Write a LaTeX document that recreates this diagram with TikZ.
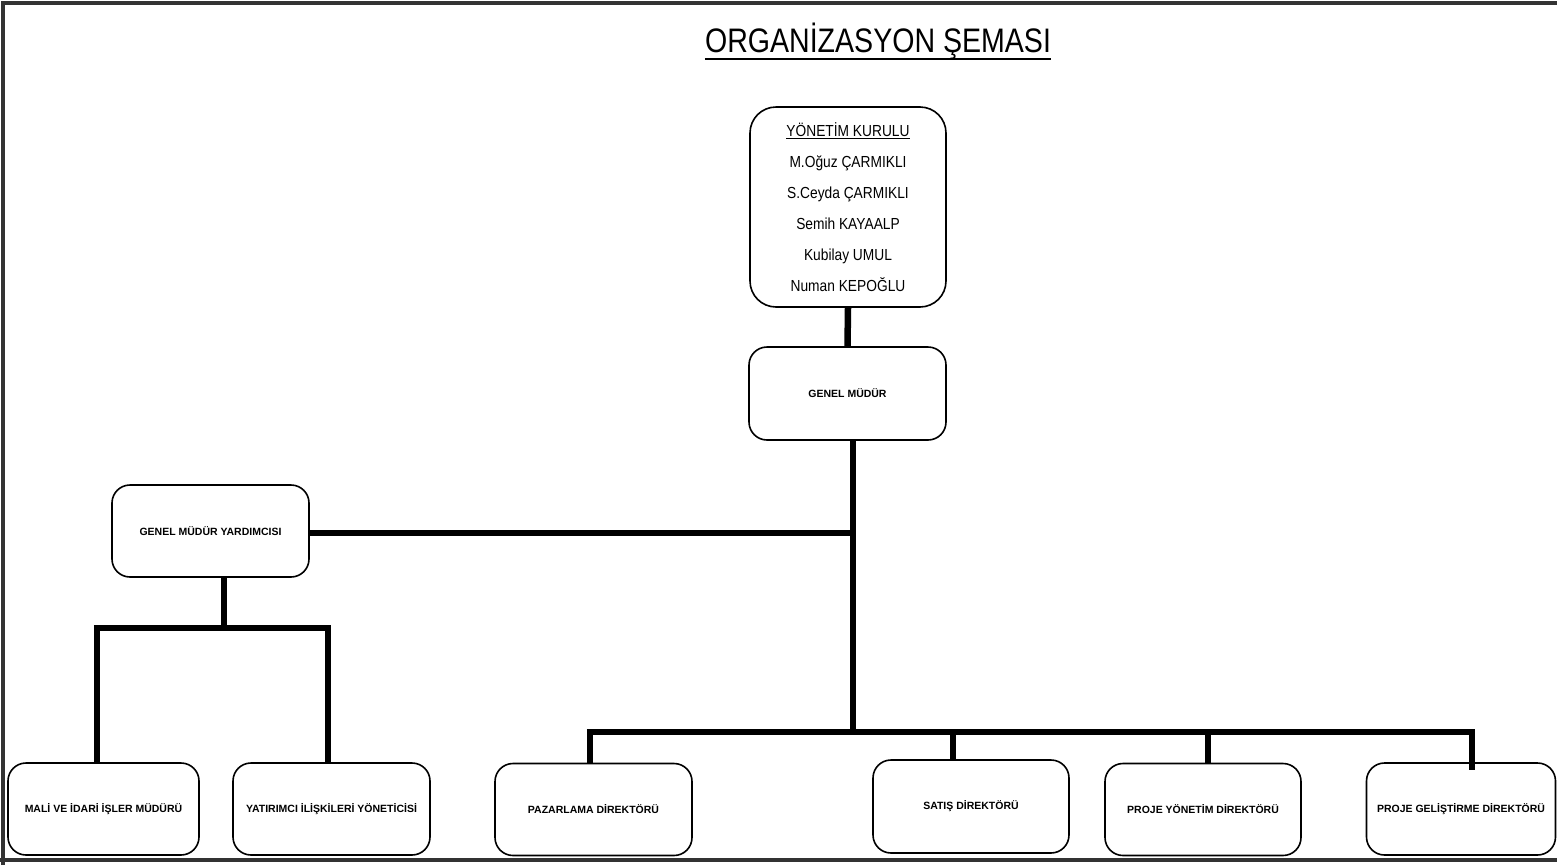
\documentclass[tikz,border=0pt]{standalone}
\usepackage{fontspec}
\setmainfont{Liberation Sans}
\newcommand\nx[1]{\scalebox{0.86}[1]{#1}}
\begin{document}
\begin{tikzpicture}[x=1pt,y=-1pt,
  box/.style={draw=black,line width=1.6pt,rounded corners=18pt,fill=white,
    inner sep=2pt,align=center,font=\fontsize{10.5}{12}\selectfont\bfseries},
  conn/.style={line width=6.5pt,draw=black},
  frame/.style={line width=4.5pt,draw=black!80}]
\useasboundingbox (0,0) rectangle (1557,865);
\begin{scope}
\clip (0,0) rectangle (1557,865);
% frame
\draw[frame] (3,865) -- (3,3) -- (1557,3);
\draw[frame] (0,860) -- (1557,860);
% title
\node[anchor=base,inner sep=0pt,font=\fontsize{34}{40}\selectfont] (title) at (878,52) {\scalebox{0.84}[1]{ORGANİZASYON ŞEMASI}};
\draw[line width=2.6pt] (title.base west) ++(0,7) -- ([yshift=-7pt]title.base east);
% nodes
\node[box,minimum width=196pt,minimum height=200pt,rounded corners=26pt,
  font=\fontsize{16}{31}\selectfont] (yk) at (848,207)
  {\nx{\underline{YÖNETİM KURULU}}\\\nx{M.Oğuz ÇARMIKLI}\\\nx{S.Ceyda ÇARMIKLI}\\\nx{Semih KAYAALP}\\\nx{Kubilay UMUL}\\\nx{Numan KEPOĞLU}};
\node[box,minimum width=197pt,minimum height=93pt] (gm) at (847.5,393.5) {GENEL MÜDÜR};
\node[box,minimum width=197pt,minimum height=92pt] (gmy) at (210.5,531) {GENEL MÜDÜR YARDIMCISI};
\node[box,minimum width=191pt,minimum height=92pt] (mali) at (103.5,809) {MALİ VE İDARİ İŞLER MÜDÜRÜ};
\node[box,minimum width=197pt,minimum height=92pt] (yat) at (331.5,809) {YATIRIMCI İLİŞKİLERİ YÖNETİCİSİ};
\node[box,minimum width=197pt,minimum height=92pt] (paz) at (593.5,809.5) {PAZARLAMA DİREKTÖRÜ};
\node[box,minimum width=196pt,minimum height=93pt] (sat) at (971,806.5) {SATIŞ DİREKTÖRÜ};
\node[box,minimum width=196pt,minimum height=92pt] (pyd) at (1203,809.5) {PROJE YÖNETİM DİREKTÖRÜ};
\node[box,minimum width=189pt,minimum height=92pt] (pgd) at (1461,809) {PROJE GELİŞTİRME DİREKTÖRÜ};
% junction coordinates
\coordinate (j1) at (853,533);
\coordinate (j2) at (853,732);
\coordinate (b1) at (590,732);
\coordinate (b2) at (953,732);
\coordinate (b3) at (1208,732);
\coordinate (b4) at (1472,732);
\coordinate (g1) at (224,628);
\coordinate (l1) at (97,628);
\coordinate (l2) at (328,628);
% connectors
\draw[conn] (yk.south) -- (gm.north);
\draw[conn] (gm.south -| j1) -- (j2);
\draw[conn] (gmy.east |- j1) -- (j1);
\draw[conn] ([xshift=-3.25pt]b1) -- ([xshift=3.25pt]b4);
\draw[conn] (b1) -- (b1 |- paz.north);
\draw[conn] (b2) -- (b2 |- sat.north);
\draw[conn] (b3) -- (b3 |- pyd.north);
\draw[conn] (b4) -- ([yshift=-8pt]b4 |- pgd.north);
\draw[conn] (gmy.south -| g1) -- (g1);
\draw[conn] ([xshift=-3.25pt]l1) -- ([xshift=3.25pt]l2);
\draw[conn] (l1) -- (l1 |- mali.north);
\draw[conn] (l2) -- (l2 |- yat.north);
\end{scope}
\end{tikzpicture}
\end{document}
